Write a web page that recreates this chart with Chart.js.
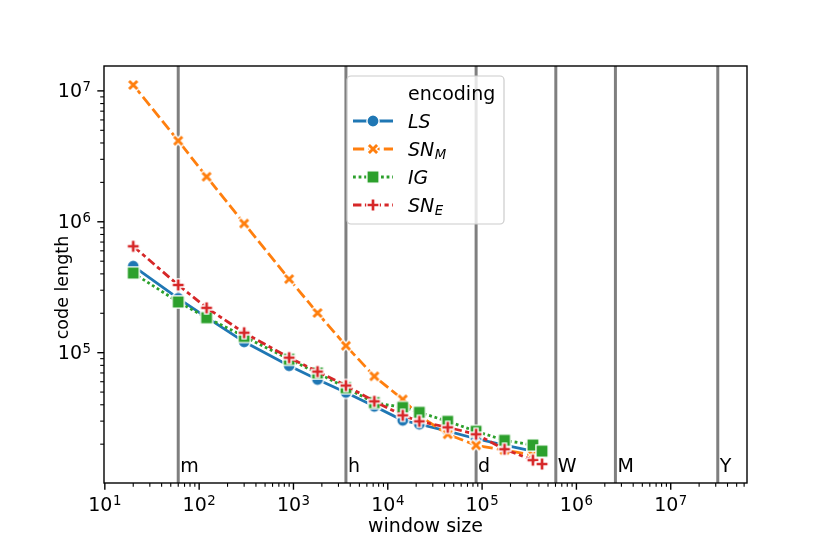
<!DOCTYPE html>
<html><head><meta charset="utf-8">
<script src="https://cdn.jsdelivr.net/npm/chart.js@4.4.1/dist/chart.umd.min.js"></script>
<style>html,body{margin:0;padding:0;background:#fff}canvas{display:block}</style>
</head><body>
<canvas id="c" width="830" height="554"></canvas>
<script>
// ---------------- data ----------------
const windowSizes = [20, 60, 120, 300, 900, 1800, 3600, 7200, 14400, 21600, 43200, 86400, 172800, 345600, 432000];
const lsValues  = [4.58e5, 2.6e5, 1.86e5, 1.21e5, 7.95e4, 6.24e4, 4.97e4, 3.89e4, 3.04e4, 2.84e4, 2.52e4, 2.2e4, 1.97e4, 1.77e4, null];
const snmValues = [1.11e7, 4.16e6, 2.21e6, 9.7e5, 3.65e5, 2.01e5, 1.13e5, 6.6e4, 4.4e4, 3.3e4, 2.38e4, 1.96e4, 1.8e4, 1.65e4, null];
const igValues  = [4.06e5, 2.44e5, 1.85e5, 1.33e5, 8.9e4, 7.0e4, 5.4e4, 4.15e4, 3.82e4, 3.5e4, 2.99e4, 2.51e4, 2.14e4, 1.97e4, 1.77e4];
const sneValues = [6.5e5, 3.29e5, 2.2e5, 1.42e5, 9.16e4, 7.17e4, 5.61e4, 4.25e4, 3.32e4, 2.99e4, 2.69e4, 2.38e4, 1.83e4, 1.51e4, 1.41e4];
const seriesNames = [['LS', ''], ['SN', 'M'], ['IG', ''], ['SN', 'E']];
const legendTitle = 'encoding';
const periodValues = [60, 3600, 86400, 604800, 2592000, 31536000];
const periodLabels = ['m', 'h', 'd', 'W', 'M', 'Y'];
const xTickValues = [1e1, 1e2, 1e3, 1e4, 1e5, 1e6, 1e7];
const yTickValues = [1e5, 1e6, 1e7];
const xTitle = 'window size';
const yTitle = 'code length';

// ---------------- styles ----------------
const FONT = '"DejaVu Sans", sans-serif';
const colors = ['#1f77b4', '#ff7f0e', '#2ca02c', '#d62728'];
const LW = 2.8;
const dashes = [[], [11.2, 4.2], [2.8, 2.8], [8.4, 3.5, 4.2, 3.5]];
const shapes = ['circle', 'x', 'square', 'plus'];

const X_PTS = [[-1,-2],[0,-1],[1,-2],[2,-1],[1,0],[2,1],[1,2],[0,1],[-1,2],[-2,1],[-1,0],[-2,-1]].map(p => [p[0]/4, p[1]/4]);
const P_PTS = [[-1,-3],[1,-3],[1,-1],[3,-1],[3,1],[1,1],[1,3],[-1,3],[-1,1],[-3,1],[-3,-1],[-1,-1]].map(p => [p[0]/6, p[1]/6]);

function makeMarker(shape, color) {
  const s = 12.2, N = 18;
  const cv = document.createElement('canvas');
  cv.width = N; cv.height = N;
  const c = cv.getContext('2d');
  c.translate(N / 2, N / 2);
  c.beginPath();
  if (shape === 'circle') c.arc(0, 0, s / 2, 0, Math.PI * 2);
  else if (shape === 'square') c.rect(-s / 2, -s / 2, s, s);
  else {
    const pts = shape === 'x' ? X_PTS : P_PTS;
    pts.forEach((p, i) => i ? c.lineTo(p[0] * s, p[1] * s) : c.moveTo(p[0] * s, p[1] * s));
    c.closePath();
  }
  c.fillStyle = color; c.fill();
  c.lineWidth = 1.4; c.strokeStyle = '#ffffff'; c.lineJoin = 'miter'; c.stroke();
  return cv;
}
const markers = shapes.map((s, i) => makeMarker(s, colors[i]));

// ---------------- axis limits (matplotlib-style 5% log margins) ----------------
const seriesValues = [lsValues, snmValues, igValues, sneValues];
const allY = seriesValues.flat().filter(v => v != null);
const ly0 = Math.log10(Math.min(...allY)), ly1 = Math.log10(Math.max(...allY));
const yMin = Math.pow(10, ly0 - 0.05 * (ly1 - ly0)), yMax = Math.pow(10, ly1 + 0.05 * (ly1 - ly0));
const allX = windowSizes.concat(periodValues);
const lx0 = Math.log10(Math.min(...allX)), lx1 = Math.log10(Math.max(...allX));
const xMin = Math.pow(10, lx0 - 0.05 * (lx1 - lx0)), xMax = Math.pow(10, lx1 + 0.05 * (lx1 - lx0));

const datasets = seriesValues.map((vals, i) => ({
  label: seriesNames[i].join('_'),
  data: windowSizes.map((x, j) => ({ x: x, y: vals[j] })).filter(p => p.y != null),
  borderColor: colors[i],
  backgroundColor: colors[i],
  borderWidth: LW,
  borderDash: dashes[i],
  borderJoinStyle: 'round',
  borderCapStyle: 'butt',
  pointStyle: markers[i],
  pointRadius: 6,
  pointHoverRadius: 6,
  fill: false,
  tension: 0,
  order: 4 - i
}));

function rrect(c, x, y, w, h, r) {
  c.beginPath();
  c.moveTo(x + r, y);
  c.lineTo(x + w - r, y); c.arcTo(x + w, y, x + w, y + r, r);
  c.lineTo(x + w, y + h - r); c.arcTo(x + w, y + h, x + w - r, y + h, r);
  c.lineTo(x + r, y + h); c.arcTo(x, y + h, x, y + h - r, r);
  c.lineTo(x, y + r); c.arcTo(x, y, x + r, y, r);
  c.closePath();
}

// power-of-ten label like matplotlib mathtext: "10" + raised exponent
const BASE_PX = 19, EXP_PX = 13.3, EXP_RAISE = 6;
function powParts(v) { return String(Math.round(Math.log10(v))); }
function powWidth(ctx, v) {
  ctx.font = BASE_PX + 'px ' + FONT;
  const w1 = ctx.measureText('10').width;
  ctx.font = EXP_PX + 'px ' + FONT;
  const w2 = ctx.measureText(powParts(v)).width;
  return [w1, w2];
}
function drawPow(ctx, v, left, baseline) {
  const [w1] = powWidth(ctx, v);
  ctx.font = BASE_PX + 'px ' + FONT;
  ctx.fillText('10', left, baseline);
  ctx.font = EXP_PX + 'px ' + FONT;
  ctx.fillText(powParts(v), left + w1 + 0.5, baseline - EXP_RAISE);
}

const decor = {
  id: 'decor',
  beforeDatasetsDraw(chart) {
    const { ctx, chartArea: a, scales: { x } } = chart;
    ctx.save();
    ctx.strokeStyle = '#7f7f7f';
    ctx.lineWidth = 3;
    periodValues.forEach(v => {
      const px = x.getPixelForValue(v);
      ctx.beginPath(); ctx.moveTo(px, a.top); ctx.lineTo(px, a.bottom); ctx.stroke();
    });
    ctx.restore();
  },
  afterDraw(chart) {
    const { ctx, chartArea: a, scales: { x, y } } = chart;
    ctx.save();
    // period labels
    ctx.fillStyle = '#000';
    ctx.font = '19px ' + FONT;
    ctx.textAlign = 'left';
    ctx.textBaseline = 'alphabetic';
    periodValues.forEach((v, i) => {
      ctx.fillText(periodLabels[i], x.getPixelForValue(v) + 2, a.bottom - 11);
    });
    // frame
    ctx.strokeStyle = '#000';
    ctx.lineWidth = 1.4;
    ctx.strokeRect(a.left, a.top, a.right - a.left, a.bottom - a.top);
    // ticks
    for (let p = Math.floor(Math.log10(xMin)); p <= Math.ceil(Math.log10(xMax)); p++) {
      for (let m = 1; m <= 9; m++) {
        const v = m * Math.pow(10, p);
        if (v < xMin || v > xMax) continue;
        const px = x.getPixelForValue(v);
        const len = m === 1 ? 6.7 : 3.8;
        ctx.lineWidth = m === 1 ? 1.4 : 1.1;
        ctx.beginPath(); ctx.moveTo(px, a.bottom); ctx.lineTo(px, a.bottom + len); ctx.stroke();
      }
    }
    for (let p = Math.floor(Math.log10(yMin)); p <= Math.ceil(Math.log10(yMax)); p++) {
      for (let m = 1; m <= 9; m++) {
        const v = m * Math.pow(10, p);
        if (v < yMin || v > yMax) continue;
        const py = y.getPixelForValue(v);
        const len = m === 1 ? 6.7 : 3.8;
        ctx.lineWidth = m === 1 ? 1.4 : 1.1;
        ctx.beginPath(); ctx.moveTo(a.left, py); ctx.lineTo(a.left - len, py); ctx.stroke();
      }
    }
    // tick labels
    ctx.fillStyle = '#000';
    ctx.textAlign = 'left';
    ctx.textBaseline = 'alphabetic';
    xTickValues.forEach(v => {
      const [w1, w2] = powWidth(ctx, v);
      const px = x.getPixelForValue(v);
      drawPow(ctx, v, px - (w1 + w2 + 0.5) / 2, a.bottom + 28);
    });
    yTickValues.forEach(v => {
      const [w1, w2] = powWidth(ctx, v);
      const py = y.getPixelForValue(v);
      drawPow(ctx, v, a.left - 13 - (w1 + w2 + 0.5), py + 6.5);
    });
    // y title
    ctx.save();
    ctx.translate(63, (a.top + a.bottom) / 2 + 13);
    ctx.rotate(-Math.PI / 2);
    ctx.textAlign = 'center';
    ctx.textBaseline = 'middle';
    ctx.font = '17.5px ' + FONT;
    ctx.fillText(yTitle, 0, 0);
    ctx.restore();
    // legend
    const L = { x: 347, y: 76, w: 157, h: 148 };
    rrect(ctx, L.x, L.y, L.w, L.h, 4);
    ctx.fillStyle = 'rgba(255,255,255,0.8)';
    ctx.fill();
    ctx.strokeStyle = '#cccccc';
    ctx.lineWidth = 1.2;
    ctx.stroke();
    ctx.fillStyle = '#000';
    ctx.textAlign = 'left';
    ctx.font = '19px ' + FONT;
    ctx.textBaseline = 'alphabetic';
    ctx.fillText(legendTitle, 408, 93 + 7);
    seriesNames.forEach((nm, i) => {
      const ry = 121 + i * 28;
      ctx.save();
      ctx.strokeStyle = colors[i];
      ctx.lineWidth = LW;
      ctx.setLineDash(dashes[i]);
      ctx.lineCap = 'butt';
      ctx.beginPath(); ctx.moveTo(353, ry); ctx.lineTo(393, ry); ctx.stroke();
      ctx.restore();
      ctx.drawImage(markers[i], 373 - markers[i].width / 2, ry - markers[i].height / 2);
      ctx.fillStyle = '#000';
      ctx.font = 'italic 19px ' + FONT;
      ctx.fillText(nm[0], 408, ry + 7);
      if (nm[1]) {
        const w = ctx.measureText(nm[0]).width;
        ctx.font = 'italic 13.3px ' + FONT;
        ctx.fillText(nm[1], 408 + w + 0.5, ry + 9.5);
      }
    });
    ctx.restore();
  }
};

new Chart(document.getElementById('c'), {
  type: 'line',
  data: { datasets },
  plugins: [decor],
  options: {
    responsive: false,
    animation: false,
    devicePixelRatio: 1,
    events: [],
    layout: { padding: { top: 66, right: 83, left: 0, bottom: 0 } },
    plugins: { legend: { display: false }, tooltip: { enabled: false } },
    scales: {
      x: {
        type: 'logarithmic',
        min: xMin, max: xMax,
        bounds: 'data',
        afterBuildTicks: s => { s.ticks = xTickValues.map(v => ({ value: v })); },
        afterFit: s => { s.height = 71; },
        grid: { display: false, drawTicks: false },
        border: { display: false },
        ticks: { display: false },
        title: { display: true, text: xTitle, color: '#000', font: { size: 19, family: FONT }, padding: { top: 0, bottom: 16 } }
      },
      y: {
        type: 'logarithmic',
        min: yMin, max: yMax,
        bounds: 'data',
        afterBuildTicks: s => { s.ticks = yTickValues.map(v => ({ value: v })); },
        afterFit: s => { s.width = 104; },
        grid: { display: false, drawTicks: false },
        border: { display: false },
        ticks: { display: false },
        title: { display: false }
      }
    }
  }
});
</script>
</body></html>
